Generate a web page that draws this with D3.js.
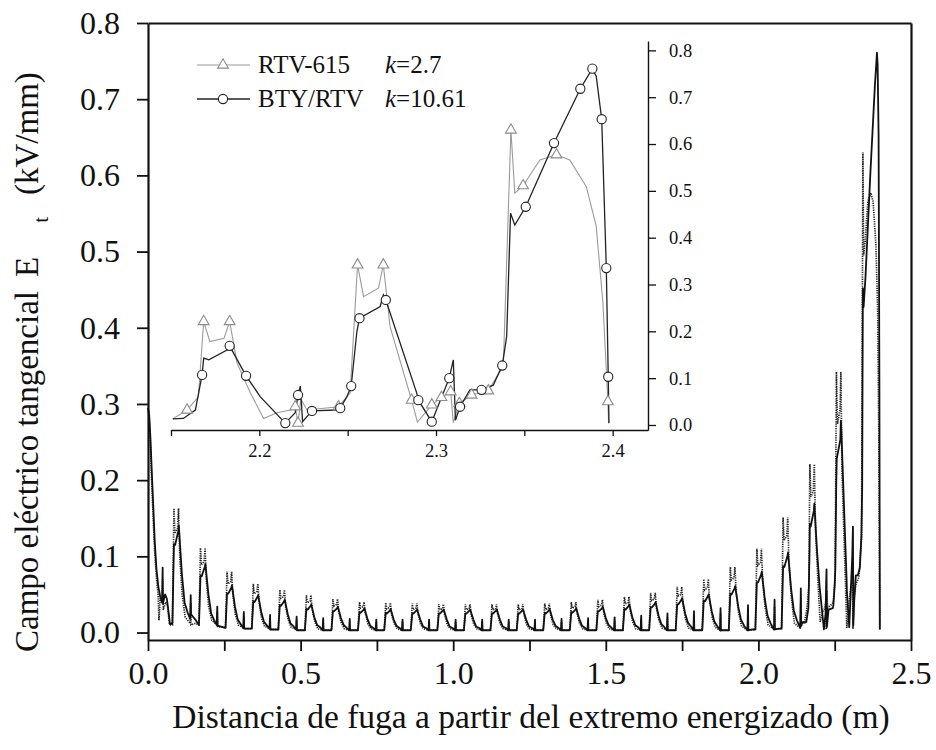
<!DOCTYPE html>
<html>
<head>
<meta charset="utf-8">
<script src="https://cdn.jsdelivr.net/npm/d3@7"></script>
<style>
  html, body { margin: 0; padding: 0; background: #fff; }
  svg { display: block; }
  text { font-family: "Liberation Serif", "Times New Roman", serif; fill: #111; }
</style>
</head>
<body>
<svg id="chart" width="936" height="750"></svg>
<script>
// Tangential electric field along the leakage path, BTY/RTV coating (solid) vs RTV-615 (dotted).
// Points are [distance (m), field (kV/mm)].
const btyMain = [
  [0,.295],[.004,.285],[.008,.255],[.012,.215],[.017,.169],[.022,.120],[.028,.082],[.034,.060],[.040,.047],[.046,.040],[.048,.085],[.049,.038],[.056,.050],[.062,.044],[.067,.028],[.072,.011],
  [.080,.012],[.085,.116],[.089,.115],[.099,.133],[.101,.140],[.111,.077],[.120,.039],[.130,.026],[.138,.018],[.140,.049],[.141,.024],[.155,.017],
  [.167,.010],[.172,.075],[.176,.074],[.186,.086],[.188,.090],[.198,.050],[.207,.025],[.217,.016],[.225,.010],[.227,.034],[.228,.009],[.245,.007],
  [.254,.006],[.259,.051],[.263,.051],[.273,.059],[.275,.062],[.285,.034],[.294,.017],[.304,.011],[.312,.006],[.314,.027],[.315,.005],[.332,.005],
  [.340,.005],[.345,.041],[.349,.040],[.359,.047],[.361,.049],[.371,.027],[.380,.014],[.390,.009],[.398,.005],[.400,.023],[.401,.004],[.419,.004],
  [.427,.004],[.432,.036],[.436,.035],[.446,.041],[.448,.043],[.458,.024],[.467,.012],[.477,.008],[.485,.004],[.487,.021],[.488,.003],[.506,.003],
  [.514,.003],[.519,.031],[.523,.030],[.533,.035],[.535,.037],[.545,.020],[.554,.010],[.564,.007],[.572,.003],[.574,.019],[.575,.003],[.593,.003],
  [.601,.003],[.606,.028],[.610,.028],[.620,.032],[.622,.034],[.632,.019],[.641,.010],[.651,.006],[.659,.003],[.661,.018],[.662,.003],[.680,.003],
  [.688,.003],[.693,.027],[.697,.026],[.707,.030],[.709,.032],[.719,.018],[.728,.009],[.738,.006],[.746,.003],[.748,.017],[.749,.003],[.766,.003],
  [.774,.003],[.779,.026],[.783,.025],[.793,.029],[.795,.031],[.805,.017],[.814,.009],[.824,.006],[.832,.003],[.834,.017],[.835,.003],[.853,.003],
  [.861,.003],[.866,.025],[.870,.025],[.880,.029],[.882,.030],[.892,.017],[.901,.008],[.911,.006],[.919,.003],[.921,.017],[.922,.003],[.940,.003],
  [.948,.003],[.953,.025],[.957,.025],[.967,.029],[.969,.030],[.979,.017],[.988,.008],[.998,.006],[1.006,.003],[1.008,.017],[1.009,.003],[1.027,.003],
  [1.035,.003],[1.040,.025],[1.044,.025],[1.054,.029],[1.056,.030],[1.066,.017],[1.075,.008],[1.085,.006],[1.093,.003],[1.095,.017],[1.096,.003],[1.114,.003],
  [1.122,.003],[1.127,.025],[1.131,.025],[1.141,.029],[1.143,.030],[1.153,.017],[1.162,.008],[1.172,.006],[1.180,.003],[1.182,.017],[1.183,.003],[1.200,.003],
  [1.208,.003],[1.213,.025],[1.217,.025],[1.227,.029],[1.229,.030],[1.239,.017],[1.248,.008],[1.258,.006],[1.266,.003],[1.268,.017],[1.269,.003],[1.287,.003],
  [1.295,.003],[1.300,.026],[1.304,.025],[1.314,.029],[1.316,.031],[1.326,.017],[1.335,.009],[1.345,.006],[1.353,.003],[1.355,.018],[1.356,.003],[1.374,.003],
  [1.382,.003],[1.387,.027],[1.391,.026],[1.401,.030],[1.403,.032],[1.413,.018],[1.422,.009],[1.432,.006],[1.440,.003],[1.442,.019],[1.443,.003],[1.461,.003],
  [1.469,.003],[1.474,.028],[1.478,.028],[1.488,.032],[1.490,.034],[1.500,.019],[1.509,.010],[1.519,.006],[1.527,.003],[1.529,.020],[1.530,.003],[1.548,.003],
  [1.556,.003],[1.561,.031],[1.565,.030],[1.575,.035],[1.577,.037],[1.587,.020],[1.596,.010],[1.606,.007],[1.614,.003],[1.616,.022],[1.617,.003],[1.634,.003],
  [1.642,.003],[1.647,.033],[1.651,.033],[1.661,.038],[1.663,.040],[1.673,.022],[1.682,.011],[1.692,.007],[1.700,.003],[1.702,.025],[1.703,.003],[1.721,.003],
  [1.729,.003],[1.734,.037],[1.738,.037],[1.748,.043],[1.750,.045],[1.760,.025],[1.769,.013],[1.779,.008],[1.787,.003],[1.789,.028],[1.790,.003],[1.808,.003],
  [1.816,.003],[1.821,.042],[1.825,.041],[1.835,.048],[1.837,.050],[1.847,.028],[1.856,.014],[1.866,.008],[1.874,.003],[1.876,.032],[1.877,.003],[1.895,.003],
  [1.903,.003],[1.908,.051],[1.912,.050],[1.922,.058],[1.924,.061],[1.934,.034],[1.943,.017],[1.953,.009],[1.964,.003],[1.966,.036],[1.967,.003],[1.982,.004],
  [1.990,.004],[1.995,.066],[1.999,.066],[2.009,.076],[2.011,.080],[2.021,.044],[2.030,.022],[2.040,.012],[2.051,.004],[2.053,.043],[2.054,.004],[2.068,.005],
  [2.076,.005],[2.081,.087],[2.085,.086],[2.095,.100],[2.097,.105],[2.107,.058],[2.116,.029],[2.126,.016],[2.137,.006],[2.139,.058],[2.140,.010],[2.146,.014]
];

const rtvMain = [
  [0,.295],[.004,.280],[.008,.245],[.012,.200],[.017,.150],[.022,.105],[.028,.070],[.033,.050],[.036,.016],[.040,.045],[.046,.038],[.048,.070],[.050,.030],[.058,.040],[.064,.035],[.070,.012],[.074,.010],
  [.080,.010],[.085,.163],[.088,.130],[.097,.137],[.100,.163],[.104,.101],[.112,.049],[.122,.020],[.139,.012],[.140,.039],[.141,.010],[.155,.012],
  [.167,.010],[.172,.111],[.175,.089],[.184,.093],[.187,.111],[.191,.069],[.199,.033],[.209,.016],[.226,.010],[.227,.027],[.228,.008],[.245,.007],
  [.254,.006],[.259,.080],[.262,.064],[.271,.067],[.274,.080],[.278,.050],[.286,.024],[.296,.010],[.313,.006],[.314,.022],[.315,.005],[.332,.005],
  [.340,.005],[.345,.064],[.348,.051],[.357,.054],[.360,.064],[.364,.040],[.372,.019],[.382,.008],[.399,.005],[.400,.018],[.401,.004],[.419,.004],
  [.427,.004],[.432,.056],[.435,.045],[.444,.047],[.447,.056],[.451,.035],[.459,.017],[.469,.007],[.486,.004],[.487,.017],[.488,.003],[.506,.003],
  [.514,.003],[.519,.049],[.522,.039],[.531,.041],[.534,.049],[.538,.030],[.546,.015],[.556,.005],[.573,.003],[.574,.015],[.575,.003],[.593,.003],
  [.601,.003],[.606,.044],[.609,.035],[.618,.037],[.621,.044],[.625,.027],[.633,.013],[.643,.005],[.660,.003],[.661,.014],[.662,.003],[.680,.003],
  [.688,.003],[.693,.040],[.696,.032],[.705,.034],[.708,.040],[.712,.025],[.720,.012],[.730,.005],[.747,.003],[.748,.014],[.749,.003],[.766,.003],
  [.774,.003],[.779,.039],[.782,.031],[.791,.033],[.794,.039],[.798,.024],[.806,.012],[.816,.005],[.833,.003],[.834,.014],[.835,.003],[.853,.003],
  [.861,.003],[.866,.038],[.869,.030],[.878,.032],[.881,.038],[.885,.024],[.893,.011],[.903,.005],[.920,.003],[.921,.014],[.922,.003],[.940,.003],
  [.948,.003],[.953,.037],[.956,.030],[.965,.031],[.968,.037],[.972,.023],[.980,.011],[.990,.005],[1.007,.003],[1.008,.014],[1.009,.003],[1.027,.003],
  [1.035,.003],[1.040,.037],[1.043,.030],[1.052,.031],[1.055,.037],[1.059,.023],[1.067,.011],[1.077,.005],[1.094,.003],[1.095,.014],[1.096,.003],[1.114,.003],
  [1.122,.003],[1.127,.037],[1.130,.030],[1.139,.031],[1.142,.037],[1.146,.023],[1.154,.011],[1.164,.005],[1.181,.003],[1.182,.014],[1.183,.003],[1.200,.003],
  [1.208,.003],[1.213,.037],[1.216,.030],[1.225,.031],[1.228,.037],[1.232,.023],[1.240,.011],[1.250,.005],[1.267,.003],[1.268,.014],[1.269,.003],[1.287,.003],
  [1.295,.003],[1.300,.038],[1.303,.030],[1.312,.032],[1.315,.038],[1.319,.024],[1.327,.011],[1.337,.005],[1.354,.003],[1.355,.014],[1.356,.003],[1.374,.003],
  [1.382,.003],[1.387,.040],[1.390,.032],[1.399,.034],[1.402,.040],[1.406,.025],[1.414,.012],[1.424,.005],[1.441,.003],[1.442,.015],[1.443,.003],[1.461,.003],
  [1.469,.003],[1.474,.043],[1.477,.034],[1.486,.036],[1.489,.043],[1.493,.027],[1.501,.013],[1.511,.005],[1.528,.003],[1.529,.016],[1.530,.003],[1.548,.003],
  [1.556,.003],[1.561,.047],[1.564,.038],[1.573,.039],[1.576,.047],[1.580,.029],[1.588,.014],[1.598,.005],[1.615,.003],[1.616,.018],[1.617,.003],[1.634,.003],
  [1.642,.003],[1.647,.052],[1.650,.042],[1.659,.044],[1.662,.052],[1.666,.032],[1.674,.016],[1.684,.006],[1.701,.003],[1.702,.020],[1.703,.003],[1.721,.003],
  [1.729,.003],[1.734,.060],[1.737,.048],[1.746,.050],[1.749,.060],[1.753,.037],[1.761,.018],[1.771,.006],[1.788,.003],[1.789,.022],[1.790,.003],[1.808,.003],
  [1.816,.003],[1.821,.070],[1.824,.056],[1.833,.059],[1.836,.070],[1.840,.043],[1.848,.021],[1.858,.007],[1.875,.003],[1.876,.026],[1.877,.003],[1.895,.003],
  [1.903,.003],[1.908,.086],[1.911,.069],[1.920,.072],[1.923,.086],[1.927,.053],[1.935,.026],[1.945,.008],[1.965,.003],[1.966,.029],[1.967,.003],[1.982,.004],
  [1.990,.004],[1.995,.110],[1.998,.088],[2.007,.092],[2.010,.110],[2.014,.068],[2.022,.033],[2.032,.010],[2.052,.004],[2.053,.034],[2.054,.004],[2.068,.005],
  [2.076,.005],[2.081,.151],[2.084,.121],[2.093,.127],[2.096,.151],[2.100,.094],[2.108,.045],[2.118,.012],[2.138,.006],[2.139,.046],[2.140,.008],[2.146,.013]
];

// Last three sheds near the grounded end; a third entry of 1 marks a plotted symbol.
const btyDetail = [
  [2.151,.013],[2.157,.014],[2.1638,.032],[2.1676,.107,1],[2.1685,.143],[2.1714,.139],[2.1817,.160],[2.1832,.169,1],
  [2.1855,.153],[2.1925,.105,1],[2.2006,.060],[2.2147,.004,1],[2.2203,.026],[2.2219,.064,1],[2.2232,.083],[2.2245,.007],
  [2.2298,.030,1],[2.2439,.032],[2.2458,.036,1],[2.2495,.060],[2.252,.083,1],[2.2552,.199],[2.2567,.228,1],[2.2684,.253],
  [2.2702,.278],[2.2716,.267,1],[2.2891,.068],[2.29,.053,1],[2.2976,.007,1],[2.3075,.100,1],[2.3098,.139],[2.311,.010],
  [2.3136,.039,1],[2.3192,.075],[2.3258,.075,1],[2.3324,.085],[2.3375,.127,1],[2.34,.189],[2.3422,.452],[2.3446,.427],
  [2.3508,.466,1],[2.3668,.602,1],[2.3817,.718,1],[2.3885,.761,1],[2.3907,.745],[2.3938,.653,1],[2.3964,.335,1],
  [2.3975,.103,1],[2.3979,.004]
];

const rtvDetail = [
  [2.151,.013],[2.1591,.032,1],[2.1655,.060],[2.1685,.221,1],[2.172,.178],[2.18,.185],[2.1832,.221,1],[2.1874,.132],
  [2.195,.068],[2.2024,.014],[2.21,.026],[2.2175,.032],[2.2203,.039,1],[2.2219,.004,1],[2.2235,.055],[2.227,.032],
  [2.2448,.039,1],[2.2514,.068],[2.2556,.342,1],[2.259,.274],[2.2674,.292],[2.2702,.342,1],[2.274,.210],[2.2862,.053,1],
  [2.2895,.006],[2.2976,.043,1],[2.3031,.059,1],[2.3083,.071,1],[2.3098,.005],[2.3132,.046,1],[2.3202,.064,1],
  [2.3296,.073,1],[2.3343,.103],[2.3381,.125],[2.3424,.630,1],[2.3446,.495],[2.3493,.511,1],[2.3588,.566],
  [2.3682,.577,1],[2.3757,.566],[2.3851,.509],[2.3907,.424],[2.3945,.260],[2.3973,.050,1],[2.3977,.004]
];

const xTicks = [0, .25, .5, .75, 1, 1.25, 1.5, 1.75, 2, 2.25, 2.5];
const yTicks = [0, .1, .2, .3, .4, .5, .6, .7, .8];
const insetXTicks = [2.15, 2.2, 2.25, 2.3, 2.35, 2.4];
const insetYTicks = [0, .1, .2, .3, .4, .5, .6, .7, .8];

const legendItems = [
  { name: "RTV-615", k: "2.7", kind: "rtv" },
  { name: "BTY/RTV", k: "10.61", kind: "bty" }
];

const svg = d3.select("#chart");
const fmt1 = d3.format(".1f");
const SERIF = '"Liberation Serif", "Times New Roman", serif';

// ---------- main panel ----------
const x = d3.scaleLinear([0, 2.5], [148, 911]);
const y = d3.scaleLinear([-0.0098, 0.8], [640, 23]);

const mainLine = d3.line().x(d => x(d[0])).y(d => y(d[1]));
const rtvAll = rtvMain.concat(rtvDetail);
const btyAll = btyMain.concat(btyDetail);

svg.append("path").datum(rtvAll)
  .attr("d", mainLine).attr("fill", "none")
  .attr("stroke", "#222").attr("stroke-width", 1.7)
  .attr("stroke-dasharray", "1.2,1.1");
svg.append("path").datum(btyAll)
  .attr("d", mainLine).attr("fill", "none")
  .attr("stroke", "#111").attr("stroke-width", 1.8)
  .attr("stroke-linejoin", "round");

function styleAxis(g, fs) {
  g.attr("font-family", SERIF);
  g.selectAll(".domain").attr("stroke", "#111").attr("stroke-width", 2.2);
  g.selectAll(".tick line").attr("stroke", "#111").attr("stroke-width", 1.8);
  g.selectAll(".tick text").attr("font-size", fs).attr("fill", "#111");
}

const gx = svg.append("g").attr("transform", "translate(0,640)")
  .call(d3.axisBottom(x).tickValues(xTicks)
    .tickFormat(d => Math.abs(d * 2 - Math.round(d * 2)) < 1e-6 ? fmt1(d) : "")
    .tickSize(11).tickSizeOuter(0).tickPadding(10));
styleAxis(gx, 32);

const gy = svg.append("g").attr("transform", "translate(148,0)")
  .call(d3.axisLeft(y).tickValues(yTicks).tickFormat(fmt1)
    .tickSize(11).tickSizeOuter(0).tickPadding(17));
styleAxis(gy, 32);

const gTop = svg.append("g").attr("transform", "translate(0,23)")
  .call(d3.axisTop(x).tickValues([]).tickSizeOuter(0));
styleAxis(gTop, 32);
const gRight = svg.append("g").attr("transform", "translate(911,0)")
  .call(d3.axisRight(y).tickValues([]).tickSizeOuter(0));
styleAxis(gRight, 32);

svg.append("text")
  .attr("x", 531).attr("y", 728)
  .attr("text-anchor", "middle").attr("font-size", 33.5)
  .text("Distancia de fuga a partir del extremo energizado (m)");

// vertical title, reading bottom to top
const yTitle = svg.append("text")
  .attr("transform", "translate(38,652) rotate(-90)")
  .attr("text-anchor", "start").attr("font-size", 33);
yTitle.append("tspan").text("Campo eléctrico tangencial");
yTitle.append("tspan").attr("dx", 14).text("E");
yTitle.append("tspan").attr("font-size", 21).attr("dy", 10).attr("dx", 34).text("t");
yTitle.append("tspan").attr("dy", -10).attr("dx", 22).text("(kV/mm)");

// ---------- inset panel ----------
const xi = d3.scaleLinear([2.15, 2.42], [171, 648]);
const yi = d3.scaleLinear([-0.0107, 0.82], [430, 41]);
const insetLine = d3.line().x(d => xi(d[0])).y(d => yi(d[1]));

svg.append("path").datum(rtvDetail)
  .attr("d", insetLine).attr("fill", "none")
  .attr("stroke", "#9a9a9a").attr("stroke-width", 1.1);
svg.append("path").datum(btyDetail)
  .attr("d", insetLine).attr("fill", "none")
  .attr("stroke", "#222").attr("stroke-width", 1.3);

const tri = d3.symbol(d3.symbolTriangle, 50);
svg.append("g").selectAll("path")
  .data(rtvDetail.filter(d => d[2]))
  .join("path")
  .attr("d", tri)
  .attr("transform", d => `translate(${xi(d[0])},${yi(d[1])})`)
  .attr("fill", "#fff").attr("stroke", "#8c8c8c").attr("stroke-width", 1.1);

svg.append("g").selectAll("circle")
  .data(btyDetail.filter(d => d[2]))
  .join("circle")
  .attr("cx", d => xi(d[0])).attr("cy", d => yi(d[1])).attr("r", 4.6)
  .attr("fill", "#fff").attr("stroke", "#222").attr("stroke-width", 1.1);

const gxi = svg.append("g").attr("transform", "translate(0,430)")
  .call(d3.axisBottom(xi).tickValues(insetXTicks)
    .tickFormat(d => [2.2, 2.3, 2.4].some(v => Math.abs(v - d) < 1e-6) ? fmt1(d) : "")
    .tickSize(6).tickSizeOuter(0).tickPadding(8));
styleAxis(gxi, 18.5);
gxi.selectAll(".domain").attr("stroke-width", 1.4);
gxi.selectAll(".tick line").attr("stroke-width", 1.3);

const gyi = svg.append("g").attr("transform", "translate(648,0)")
  .call(d3.axisRight(yi).tickValues(insetYTicks).tickFormat(fmt1)
    .tickSize(8).tickSizeOuter(0).tickPadding(13));
styleAxis(gyi, 18.5);
gyi.selectAll(".domain").attr("stroke-width", 1.4);
gyi.selectAll(".tick line").attr("stroke-width", 1.3);

// legend
const legend = svg.append("g");
legendItems.forEach((it, i) => {
  const ly = 65 + i * 34;
  const g = legend.append("g");
  g.append("line").attr("x1", 197).attr("x2", 250).attr("y1", ly).attr("y2", ly)
    .attr("stroke", it.kind === "rtv" ? "#9a9a9a" : "#222")
    .attr("stroke-width", it.kind === "rtv" ? 1.1 : 1.3);
  if (it.kind === "rtv") {
    g.append("path").attr("d", tri).attr("transform", `translate(223,${ly})`)
      .attr("fill", "#fff").attr("stroke", "#8c8c8c").attr("stroke-width", 1.1);
  } else {
    g.append("circle").attr("cx", 223).attr("cy", ly).attr("r", 4.6)
      .attr("fill", "#fff").attr("stroke", "#222").attr("stroke-width", 1.1);
  }
  g.append("text").attr("x", 258).attr("y", ly + 8).attr("font-size", 25).text(it.name);
  const kt = g.append("text").attr("x", 385).attr("y", ly + 8).attr("font-size", 25);
  kt.append("tspan").attr("font-style", "italic").text("k");
  kt.append("tspan").text("=" + it.k);
});
</script>
</body>
</html>
